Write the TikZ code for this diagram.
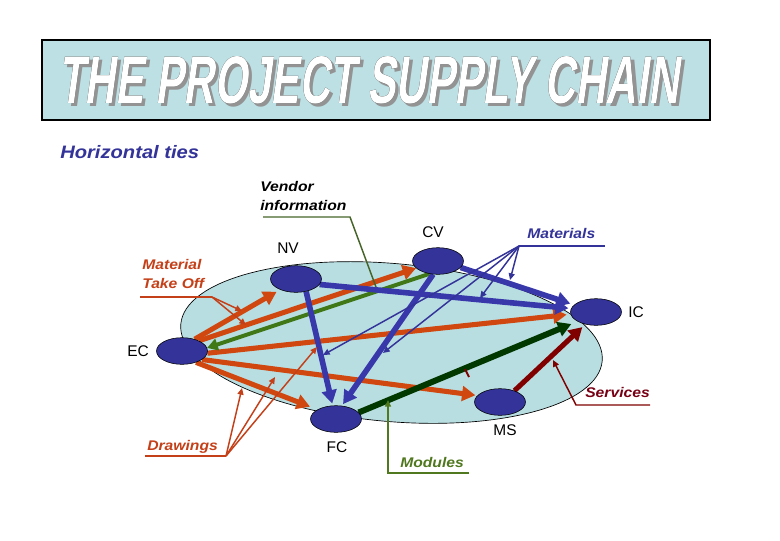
\documentclass[tikz,border=0pt]{standalone}
\usepackage{fontspec}
\usepackage{graphicx}
\usepackage{pdfrender}
\setmainfont{Liberation Sans}
\newfontfamily\labfont{Liberation Sans}[FakeStretch=1.12]
\newfontfamily\titlefont{Liberation Sans}[FakeSlant=0.22]
\usetikzlibrary{arrows.meta,shapes.geometric}
\definecolor{boxblue}{RGB}{188,224,228}
\definecolor{plate}{RGB}{184,222,226}
\definecolor{nodeblue}{RGB}{51,51,153}
\definecolor{arrblue}{RGB}{56,56,170}
\definecolor{arrred}{RGB}{208,72,16}
\definecolor{txtred}{RGB}{196,64,24}
\definecolor{leafgreen}{RGB}{64,120,24}
\definecolor{darkgreen}{RGB}{0,56,0}
\definecolor{maroonred}{RGB}{128,0,0}
\definecolor{svcred}{RGB}{120,0,20}
\definecolor{modgreen}{RGB}{80,120,30}
\definecolor{vendgreen}{RGB}{70,100,40}
\pgfdeclarelayer{back}
\pgfdeclarelayer{mid}
\pgfsetlayers{back,mid,main}
\newcommand\ttltext{\resizebox{465pt}{35.25pt}{\titlefont\bfseries THE PROJECT SUPPLY CHAIN}}
\tikzset{
  vnode/.style={ellipse, draw=black, line width=0.4pt, fill=nodeblue, minimum width=38.25pt, minimum height=20pt, inner sep=0pt},
  nlabel/.style={font=\fontsize{11.6}{13}\selectfont, inner sep=0pt},
  ilabel/.style={font=\labfont\bfseries\itshape\fontsize{10.5}{12}\selectfont, inner sep=0pt, anchor=base west},
  bigarr/.style={line width=3.8pt, -{Triangle[length=10pt,width=11pt]}},
  redarr/.style={bigarr, draw=arrred},
  bluearr/.style={bigarr, draw=arrblue, line width=4.2pt},
  greenarr/.style={bigarr, draw=leafgreen, line width=3pt, -{Triangle[length=8pt,width=9pt]}},
  dgarr/.style={bigarr, draw=darkgreen, line width=4.5pt},
  mrarr/.style={bigarr, draw=maroonred},
  thinarr/.style={line width=1.1pt, -{Triangle[length=5pt,width=4.5pt]}},
  pline/.style={line width=1.1pt}
}
\begin{document}
\begin{tikzpicture}[x=0.75pt,y=-0.75pt]
\useasboundingbox (0,0) rectangle (780,540);
\begin{pgfonlayer}{back}
\fill[white] (0,0) rectangle (780,540);
\end{pgfonlayer}

% title
\node[draw=black, line width=1.5pt, fill=boxblue, minimum width=501pt, minimum height=60pt, inner sep=0pt] (tbox) at (376,80) {};
\node[text=gray!85, inner sep=0pt] (tshadow) at (372,83.5) {\textpdfrender{TextRenderingMode=FillStroke, LineWidth=0.75pt}{\ttltext}};
\node[text=black, inner sep=0pt] (toutline) at (369,80.5) {\textpdfrender{TextRenderingMode=FillStroke, LineWidth=0.75pt}{\ttltext}};
\node[text=white, inner sep=0pt] (ttl) at (369,80.5) {\ttltext};

\node[ilabel, font=\labfont\bfseries\itshape\fontsize{13.5}{15}\selectfont, text=nodeblue] (hties) at (60,158.5) {Horizontal ties};

% plate
\begin{pgfonlayer}{back}
\filldraw[fill=plate, draw=black, line width=0.5pt, rotate around={-5:(391.5,342.5)}] (391.5,342.5) ellipse (211.5 and 79);
\end{pgfonlayer}

% nodes
\node[vnode] (NV) at (296,279) {};
\node[vnode] (CV) at (438,261) {};
\node[vnode] (IC) at (596,312) {};
\node[vnode] (EC) at (182,351) {};
\node[vnode] (FC) at (336,419) {};
\node[vnode] (MS) at (500,402) {};

\node[nlabel] (lNV) at (288,248) {NV};
\node[nlabel] (lCV) at (433,232) {CV};
\node[nlabel] (lIC) at (636,312) {IC};
\node[nlabel] (lEC) at (138,351) {EC};
\node[nlabel] (lFC) at (337,447) {FC};
\node[nlabel] (lMS) at (505,430) {MS};

% main arrows
\begin{pgfonlayer}{mid}
\draw[redarr] (EC.31) -- (CV.198);
\draw[redarr, shorten >=3pt] (EC.43) -- (NV.214);
\draw[redarr, shorten >=3pt] (EC.-5) -- (IC.185);
\draw[redarr, shorten >=1.5pt] (EC.-23) -- (MS.164);
\draw[redarr, shorten >=6pt] (EC.-39) -- (FC.153);
\draw[greenarr] (CV.236) -- (EC.7);
\draw[bluearr, shorten >=2pt] (NV.-13) -- (IC.172);
\draw[bluearr, shorten >=3pt] (CV.-16) -- (IC.162);
\draw[bluearr, shorten >=1.5pt] (NV.-51) -- (FC.104);
\draw[bluearr, shorten >=1.5pt] (CV.250) -- (FC.66);
\draw[dgarr, shorten >=5pt] (FC.16) -- (IC.207);
\draw[mrarr, shorten >=3pt] (MS.38) -- (IC.229);
\end{pgfonlayer}

% small tick
\coordinate (tk1) at (465,369);
\coordinate (tk2) at (469,377);
\draw[maroonred, line width=1.4pt] (tk1) -- (tk2);

% Vendor information
\node[ilabel] (ven1) at (260,191) {Vendor};
\node[ilabel] (ven2) at (260,210) {information};
\coordinate (vA) at (263,217);
\coordinate (vB) at (350,217);
\coordinate (vC) at (376,287);
\draw[pline, vendgreen] (vA) -- (vB) -- (vC);

% Material Take Off
\node[ilabel, text=txtred] (mto1) at (142,269) {Material};
\node[ilabel, text=txtred] (mto2) at (142,288) {Take Off};
\coordinate (mA) at (140,297);
\coordinate (mB) at (212,297);
\coordinate (mT1) at (242,311);
\coordinate (mT2) at (246,325);
\draw[pline, txtred] (mA) -- (mB);
\draw[thinarr, txtred] (mB) -- (mT1);
\draw[thinarr, txtred] (mB) -- (mT2);

% Materials
\node[ilabel, text=nodeblue] (mat) at (527,238) {Materials};
\coordinate (maA) at (519,246);
\coordinate (maB) at (605,246);
\coordinate (maT1) at (510,280);
\coordinate (maT2) at (480,298);
\coordinate (maT3) at (383,353);
\coordinate (maT4) at (323,355);
\draw[pline, nodeblue] (maA) -- (maB);
\foreach \t in {maT1,maT2,maT3,maT4}
  \draw[thinarr, nodeblue] (maA) -- (\t);

% Drawings
\node[ilabel, text=txtred] (drw) at (147,450) {Drawings};
\coordinate (dA) at (145,456);
\coordinate (dB) at (226,456);
\coordinate (dT1) at (242,388);
\coordinate (dT2) at (275,377);
\coordinate (dT3) at (317,347);
\draw[pline, txtred] (dA) -- (dB);
\foreach \t in {dT1,dT2,dT3}
  \draw[thinarr, txtred] (dB) -- (\t);

% Services
\node[ilabel, text=svcred] (svc) at (585,397) {Services};
\coordinate (sA) at (650,405);
\coordinate (sB) at (576,405);
\coordinate (sT) at (553,360);
\draw[thinarr, maroonred] (sA) -- (sB) -- (sT);

% Modules
\node[ilabel, text=modgreen] (mod) at (400,467) {Modules};
\coordinate (moA) at (469,473);
\coordinate (moB) at (388,473);
\coordinate (moT) at (388,400);
\draw[thinarr, modgreen] (moA) -- (moB) -- (moT);
\end{tikzpicture}
\end{document}
